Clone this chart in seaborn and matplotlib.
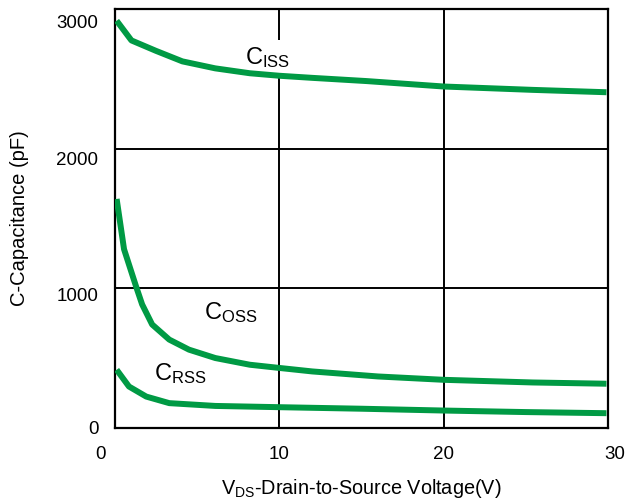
import matplotlib
matplotlib.use("Agg")
import matplotlib.pyplot as plt
import matplotlib.transforms as mtransforms
import seaborn as sns
import pandas as pd

# ---- data ----
vds_iss = [0.1, 1.0, 2.5, 4.1, 6.1, 8.2, 10.0, 12.0, 15.3, 20.0, 25.4, 29.9]
ciss = [2916, 2775, 2700, 2625, 2575, 2540, 2522, 2507, 2484, 2445, 2421, 2404]

vds_oss = [0.1, 0.55, 1.28, 1.65, 2.26, 3.3, 4.5, 6.1, 8.2, 10.0, 12.0, 16.0, 20.0, 25.4, 29.9]
coss = [1640, 1280, 1014, 885, 741, 633, 561, 501, 453, 430, 405, 369, 345, 326, 317]

vds_rss = [0.1, 0.85, 1.9, 3.3, 6.1, 10.0, 15.0, 20.0, 25.0, 29.9]
crss = [417, 297, 225, 178, 158, 149, 138, 125, 114, 106]

x_ticks = [0, 10, 20, 30]
y_ticks = [0, 1000, 2000, 3000]
x_tick_labels = ["0", "10", "20", "30"]
y_tick_labels = ["0", "1000", "2000", "3000"]

labels = ["$\\mathregular{C_{ISS}}$", "$\\mathregular{C_{OSS}}$", "$\\mathregular{C_{RSS}}$"]
label_x = [7.9, 5.4, 2.4]
label_y = [2650, 830, 390]

sns.set_theme(style="white")
plt.rcParams["font.family"] = ["Liberation Sans", "DejaVu Sans"]
plt.rcParams["mathtext.fontset"] = "custom"
plt.rcParams["mathtext.rm"] = "Liberation Sans"
plt.rcParams["mathtext.it"] = "Liberation Sans"
plt.rcParams["text.color"] = "black"
plt.rcParams["axes.labelcolor"] = "black"
plt.rcParams["xtick.color"] = "black"
plt.rcParams["ytick.color"] = "black"

green = "#009A44"

fig = plt.figure(figsize=(6.25, 5.0), dpi=100)
ax = fig.add_axes([0.184, 0.144, 0.789, 0.838])

frames = [
    pd.DataFrame({"V": vds_iss, "C": ciss}),
    pd.DataFrame({"V": vds_oss, "C": coss}),
    pd.DataFrame({"V": vds_rss, "C": crss}),
]
for df in frames:
    sns.lineplot(data=df, x="V", y="C", ax=ax, color=green, linewidth=4.3,
                 solid_capstyle="butt", solid_joinstyle="round", zorder=3)

ax.set_xlim(0, 30)
ax.set_ylim(0, 3000)
ax.set_xticks(x_ticks)
ax.set_yticks(y_ticks)
ax.set_xticklabels(x_tick_labels, fontsize=13.5)
ax.set_yticklabels(y_tick_labels, fontsize=13.5)
ax.tick_params(axis="both", length=0, labelcolor="black")
ax.tick_params(axis="x", pad=13)
ax.tick_params(axis="y", pad=12)

ax.grid(True, color="black", linewidth=1.4, zorder=1)
ax.set_axisbelow(True)
for s in ax.spines.values():
    s.set_color("black")
    s.set_linewidth(1.6)

# small offsets of tick labels as in the reference
xoffs = [-15, 0, 0, 7]
for lab, dx in zip(ax.get_xticklabels(), xoffs):
    lab.set_transform(lab.get_transform() + mtransforms.ScaledTranslation(dx / 100, 0, fig.dpi_scale_trans))
yoffs = [1, -6, -10, -13]
for lab, dy in zip(ax.get_yticklabels(), yoffs):
    lab.set_transform(lab.get_transform() + mtransforms.ScaledTranslation(0, dy / 100, fig.dpi_scale_trans))

ax.set_xlabel("V$_{\\mathregular{DS}}$-Drain-to-Source Voltage(V)", fontsize=14.3, labelpad=10, color="black")
ax.set_ylabel("C-Capacitance (pF)", fontsize=14.5, labelpad=20, color="black")

for t, x, y in zip(labels, label_x, label_y):
    ax.text(x, y, t, fontsize=17, ha="left", va="center", zorder=2, color="black",
            bbox=dict(facecolor="white", edgecolor="none", pad=4))

fig.savefig("out.png", dpi=100)
